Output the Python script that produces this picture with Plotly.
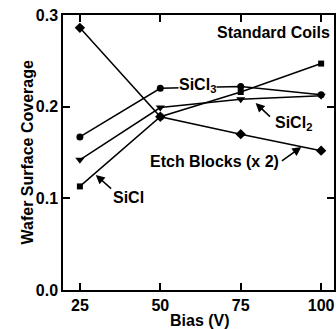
import plotly.graph_objects as go

# ---- data ----
bias = [25, 50, 75, 100]
sicl = [0.113, 0.189, 0.216, 0.247]
sicl2 = [0.142, 0.199, 0.208, 0.212]
sicl3 = [0.167, 0.220, 0.222, 0.213]
etch = [0.286, 0.189, 0.170, 0.152]

x_ticks = [25, 50, 75, 100]
y_ticks = [0.0, 0.1, 0.2, 0.3]
y_ticktext = ["0.0", "0.1", "0.2", "0.3"]

FONT = "Liberation Sans, Arial, Helvetica, sans-serif"

fig = go.Figure()

series = [
    (sicl, "SiCl", "square", 6),
    (sicl2, "SiCl2", "triangle-down", 8),
    (sicl3, "SiCl3", "circle", 7),
    (etch, "Etch Blocks (x 2)", "diamond", 8),
]
for vals, name, sym, sz in series:
    fig.add_trace(go.Scatter(
        x=bias, y=vals, name=name, mode="lines+markers",
        line=dict(color="black", width=1.5),
        marker=dict(symbol=sym, size=sz, color="black"),
        showlegend=False,
    ))

tf = dict(family=FONT, size=16, color="black", weight="bold")

annotations = [
    dict(x=85.2, y=0.2804, text="Standard Coils", showarrow=False,
         xanchor="center", yanchor="middle", font=tf),
    dict(x=61.7, y=0.2236, text="SiCl<sub>3</sub>", showarrow=False,
         xanchor="center", yanchor="middle", font=tf, bgcolor="white", borderpad=0),
    dict(x=91.4, y=0.1811, text="SiCl<sub>2</sub>", showarrow=False,
         xanchor="center", yanchor="middle", font=tf),
    dict(x=67.0, y=0.1407, text="Etch Blocks (x 2)", showarrow=False,
         xanchor="center", yanchor="middle", font=tf),
    dict(x=40.1, y=0.1004, text="SiCl", showarrow=False,
         xanchor="center", yanchor="middle", font=tf),
    # arrows
    dict(x=79.63, y=0.2040, ax=84.57, ay=0.1876, axref="x", ayref="y", text="",
         showarrow=True, arrowhead=2, arrowsize=1.2, arrowwidth=1.5, arrowcolor="black"),
    dict(x=93.83, y=0.1560, ax=87.34, ay=0.1396, axref="x", ayref="y", text="",
         showarrow=True, arrowhead=2, arrowsize=1.2, arrowwidth=1.5, arrowcolor="black"),
    dict(x=29.94, y=0.1255, ax=35.18, ay=0.1091, axref="x", ayref="y", text="",
         showarrow=True, arrowhead=2, arrowsize=1.2, arrowwidth=1.5, arrowcolor="black"),
    # axis titles
    dict(x=0, y=0.5, xref="paper", yref="paper", text="Wafer Surface Coverage",
         textangle=-90, showarrow=False, xanchor="center", yanchor="middle",
         xshift=-36, font=tf),
    dict(x=0.505, y=0, xref="paper", yref="paper", text="Bias (V)",
         showarrow=False, xanchor="center", yanchor="middle", yshift=-30, font=tf),
]

fig.update_layout(
    width=336, height=329,
    margin=dict(l=63, r=0, t=15, b=39, pad=0),
    paper_bgcolor="white", plot_bgcolor="white",
    font=dict(family=FONT, size=16, color="black"),
    annotations=annotations,
)

fig.update_xaxes(
    range=[19.75, 104.0], tickvals=x_ticks, ticks="inside", ticklen=7,
    tickwidth=1.5, tickcolor="black", showline=True, linewidth=1.5,
    linecolor="black", mirror="ticks", showgrid=False, zeroline=False,
    tickfont=tf,
)
fig.update_yaxes(
    range=[0, 0.3], tickvals=y_ticks, ticktext=y_ticktext, ticks="inside",
    ticklen=7, tickwidth=1.5, tickcolor="black", showline=True, linewidth=1.5,
    linecolor="black", mirror="ticks", showgrid=False, zeroline=False,
    tickfont=tf,
)

fig.write_html("out.html")
